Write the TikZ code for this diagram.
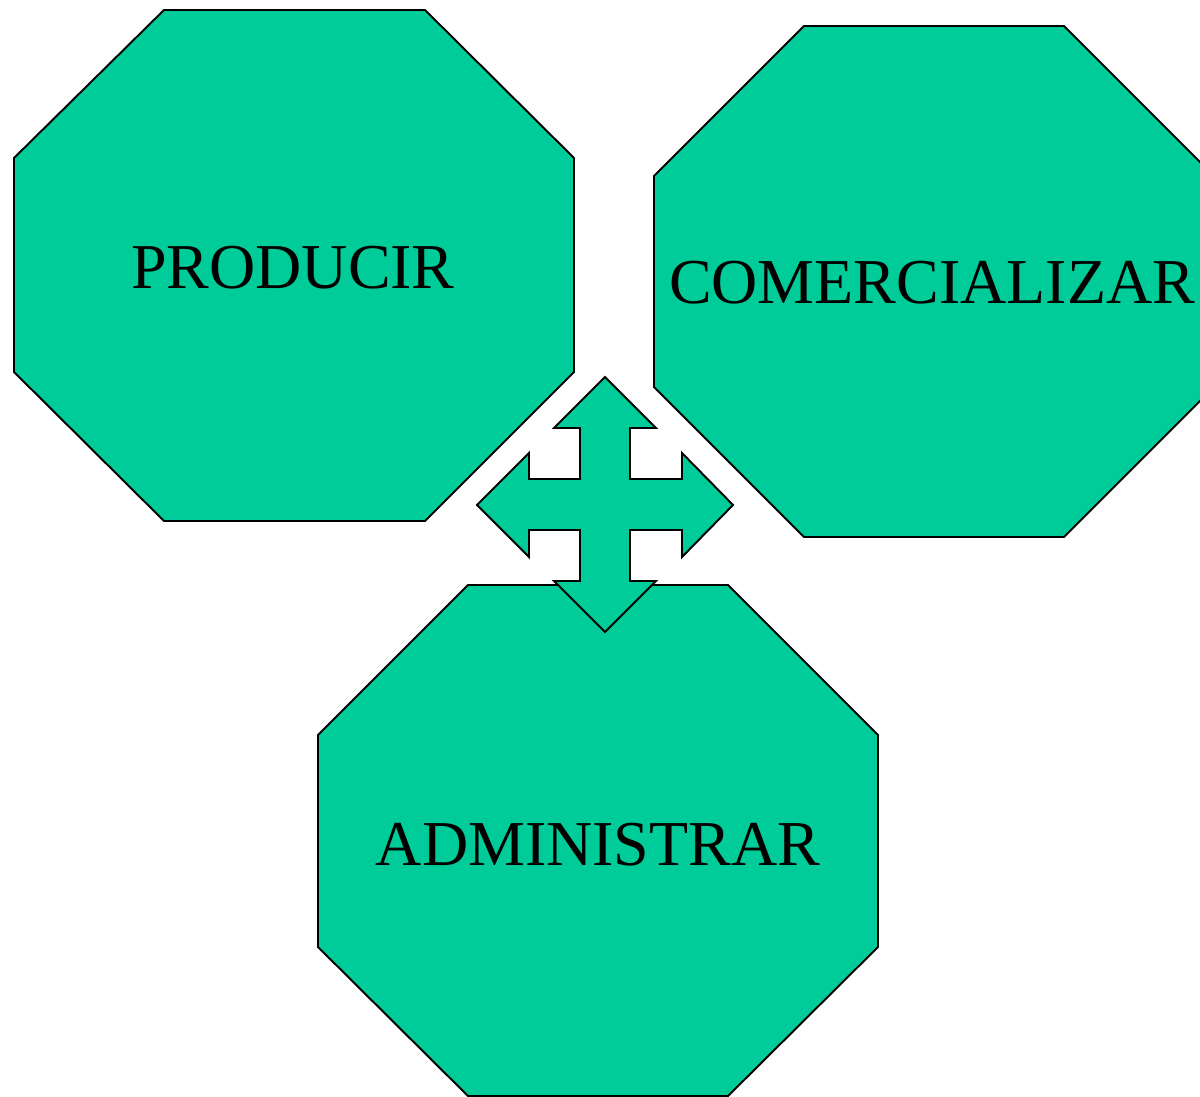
\documentclass[tikz,border=0pt]{standalone}
\usepackage{fontspec}
\setmainfont{Liberation Serif}
\usepackage{tikz}
\usetikzlibrary{positioning}
\usetikzlibrary{calc}
\definecolor{octgreen}{RGB}{0,204,153}

\tikzset{
octa/.style={draw=black,fill=octgreen,line width=1.1pt,line join=miter},
lbl/.style={font=\fontsize{36.4}{40}\selectfont,inner sep=0pt}
}

\begin{document}
\begin{tikzpicture}[x=0.02cm,y=-0.02cm]
\clip (0,0) rectangle (1200,1097);

\draw [octa] (164,10) -- (425,10) -- (574,158) -- (574,372) -- (425,521)
  -- (164,521) -- (14,372) -- (14,158) -- cycle;
\draw [octa] (804,26) -- (1064,26) -- (1214,176) -- (1214,387) -- (1064,537)
  -- (804,537) -- (654,387) -- (654,176) -- cycle;
\draw [octa] (468,585) -- (728,585) -- (878,735) -- (878,947) -- (728,1096)
  -- (468,1096) -- (318,947) -- (318,735) -- cycle;

\path
(293,268) node [lbl](prod) {PRODUCIR}
(932,283) node [lbl](com) {COMERCIALIZAR}
(598,845) node [lbl](adm) {ADMINISTRAR};

\draw [octa] (605,377) -- (656,428) -- (630,428) -- (630,479) -- (682,479)
  -- (682,453) -- (733,505) -- (682,557) -- (682,530) -- (630,530)
  -- (630,581) -- (656,581) -- (605,632) -- (554,581) -- (580,581)
  -- (580,530) -- (529,530) -- (529,557) -- (477,505) -- (529,453)
  -- (529,479) -- (580,479) -- (580,428) -- (554,428) -- cycle;

\end{tikzpicture}
\end{document}
